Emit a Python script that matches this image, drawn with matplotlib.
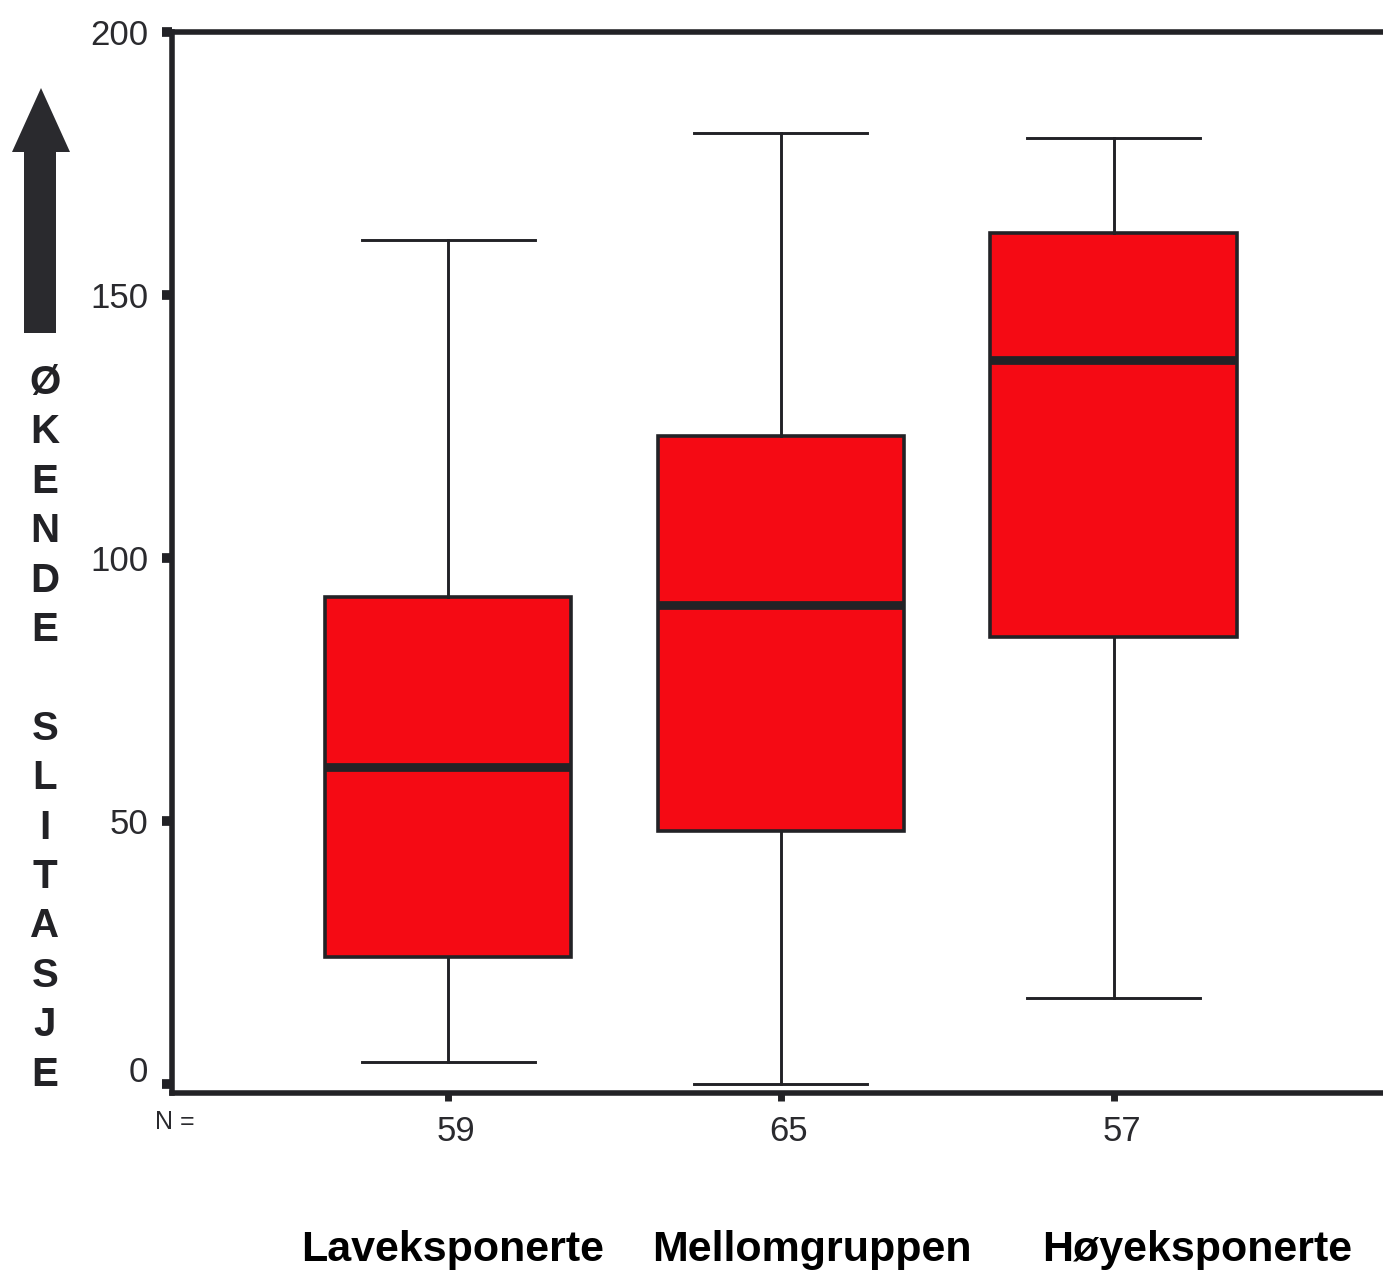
import matplotlib
matplotlib.use("Agg")
import matplotlib.pyplot as plt
from matplotlib.patches import Polygon
from matplotlib.transforms import ScaledTranslation

groups = ["Laveksponerte", "Mellomgruppen", "Høyeksponerte"]
n_labels = ["59", "65", "57"]
whislo = [4.2, 0.0, 16.3]
q1 = [24.1, 48.1, 85.0]
med = [60.3, 91.1, 137.6]
q3 = [92.6, 123.2, 161.8]
whishi = [160.5, 180.8, 179.8]
yticks = [0, 50, 100, 150, 200]
side_letters = list("ØKENDE") + [""] + list("SLITASJE")

W, H = 1383, 1275
fig = plt.figure(figsize=(W / 100, H / 100), dpi=100)
ax = fig.add_axes([172 / W, 1 - 1093 / H, 1 - 172 / W, (1093 - 32) / H])

stats = [dict(whislo=a, q1=b, med=c, q3=d, whishi=e, fliers=[], label=n)
         for a, b, c, d, e, n in zip(whislo, q1, med, q3, whishi, n_labels)]
pos = [1, 2, 3]
ax.bxp(stats, positions=pos, widths=0.74, capwidths=0.52, patch_artist=True,
       showfliers=False,
       boxprops=dict(facecolor="#f50a14", edgecolor="#222226", linewidth=2.6),
       medianprops=dict(color="#222226", linewidth=6.3, solid_capstyle="butt"),
       whiskerprops=dict(color="#222226", linewidth=2.1),
       capprops=dict(color="#222226", linewidth=2.1))

ax.set_xlim(0.17, 3.81)
ax.set_ylim(-1.7, 200)
ax.set_yticks(yticks)
ax.set_yticklabels([str(v) for v in yticks], fontsize=25, family="Liberation Sans",
                   color="#2a2a2e")
ax.set_xticks(pos)
ax.set_xticklabels(n_labels, fontsize=25, family="Liberation Sans", color="#2a2a2e")
ax.tick_params(axis="y", length=7, width=7, color="#222226", pad=10)
ax.tick_params(axis="x", length=6, width=5, color="#222226", pad=10)
for s in ["left", "bottom", "top"]:
    ax.spines[s].set_linewidth(4)
    ax.spines[s].set_color("#222226")
ax.spines["right"].set_visible(False)

# shift "0" label upward as in the reference; N labels slightly right
ylabs = ax.get_yticklabels()
ylabs[0].set_transform(ylabs[0].get_transform() + ScaledTranslation(0, 0.15, fig.dpi_scale_trans))
for t in ax.get_xticklabels():
    t.set_transform(t.get_transform() + ScaledTranslation(0.08, 0, fig.dpi_scale_trans))

fig.text(155 / W, 1 - 1122 / H, "N =", fontsize=18, family="Liberation Sans",
         color="#2a2a2e", va="center", ha="left")

label_x = [453, 812, 1197]
for lab, x in zip(groups, label_x):
    fig.text(x / W, 1 - 1250 / H, lab, fontsize=31, fontweight="heavy",
             family="Liberation Sans", ha="center", va="center", color="black")

for i, ch in enumerate(side_letters):
    y = 383 + i * 49.4
    fig.text(45 / W, 1 - y / H, ch, fontsize=29, fontweight="bold",
             family="Liberation Sans", ha="center", va="center", color="#222226")

arrow_px = [(24, 333), (56, 333), (56, 152), (70, 152), (41, 88), (12, 152), (24, 152)]
arrow = Polygon([(x / W, 1 - y / H) for x, y in arrow_px], closed=True,
                transform=fig.transFigure, facecolor="#2a2a2e", edgecolor="none")
fig.patches.append(arrow)

fig.savefig("out.png", dpi=100, facecolor="white")
